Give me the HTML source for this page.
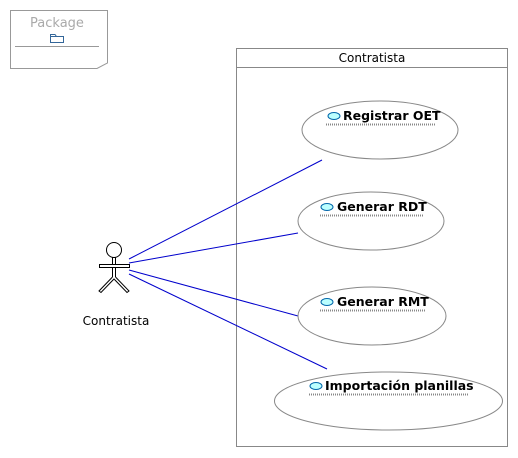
<!DOCTYPE html>
<html><head><style>body{margin:0;background:#fff}svg{display:block}text{font-family:"DejaVu Sans","Liberation Sans",sans-serif}</style></head>
<body>
<svg width="518" height="458" xmlns="http://www.w3.org/2000/svg">
<path d="M10.5,10.5 H107.5 V63 L97,68.5 H10.5 Z" fill="#fff" stroke="#999"/>
<text x="57" y="27" font-size="13" fill="#aaa" text-anchor="middle">Package</text>
<path d="M50.5,34.5 H55 L56.5,36.5 H63.5 V42.5 H50.5 Z" fill="none" stroke="#369"/>
<line x1="50.5" y1="36.5" x2="56.5" y2="36.5" stroke="#369"/>
<line x1="15" y1="46.5" x2="99" y2="46.5" stroke="#999"/>
<rect x="236.5" y="48.5" width="271" height="398" fill="#fff" stroke="#888"/>
<line x1="236.5" y1="67.5" x2="507.5" y2="67.5" stroke="#888"/>
<text x="372" y="62" font-size="12" text-anchor="middle">Contratista</text>
<g stroke="#00c" stroke-width="1">
<line x1="129" y1="259" x2="322" y2="160"/>
<line x1="129" y1="263" x2="298" y2="233"/>
<line x1="129" y1="270" x2="298" y2="316"/>
<line x1="129" y1="274" x2="327" y2="369"/>
</g>
<g fill="#fff" stroke="#888">
<ellipse cx="380" cy="130" rx="78" ry="29"/>
<ellipse cx="371" cy="221" rx="73" ry="29"/>
<ellipse cx="372" cy="316" rx="74" ry="29"/>
<ellipse cx="388.5" cy="401" rx="114" ry="29"/>
</g>
<g font-size="12.5" font-weight="bold">
<ellipse cx="334" cy="116" rx="6" ry="3.5" fill="#bff" stroke="#06a"/>
<text x="343" y="120">Registrar OET</text>
<line x1="326" y1="124.5" x2="436" y2="124.5" stroke="#888" stroke-width="2" stroke-dasharray="1,1"/>
<ellipse cx="327" cy="207" rx="6" ry="3.5" fill="#bff" stroke="#06a"/>
<text x="337" y="211">Generar RDT</text>
<line x1="320" y1="215.5" x2="424" y2="215.5" stroke="#888" stroke-width="2" stroke-dasharray="1,1"/>
<ellipse cx="327" cy="302" rx="6" ry="3.5" fill="#bff" stroke="#06a"/>
<text x="337" y="306">Generar RMT</text>
<line x1="320" y1="310.5" x2="426" y2="310.5" stroke="#888" stroke-width="2" stroke-dasharray="1,1"/>
<ellipse cx="316" cy="386" rx="6" ry="3.5" fill="#bff" stroke="#06a"/>
<text x="325" y="390">Importación planillas</text>
<line x1="309" y1="394.5" x2="468" y2="394.5" stroke="#888" stroke-width="2" stroke-dasharray="1,1"/>
</g>
<g stroke="#000" fill="#fff">
<circle cx="114" cy="250" r="7.5"/>
<rect x="112.5" y="257.5" width="3" height="20"/>
<rect x="99.5" y="264.5" width="30" height="3"/>
<path d="M112.5,277 L99,291 L101,292.5 L114,279 L127,292.5 L129,291 L115.5,277" />
</g>
<text x="116" y="325" font-size="12" text-anchor="middle">Contratista</text>
</svg>
</body></html>
